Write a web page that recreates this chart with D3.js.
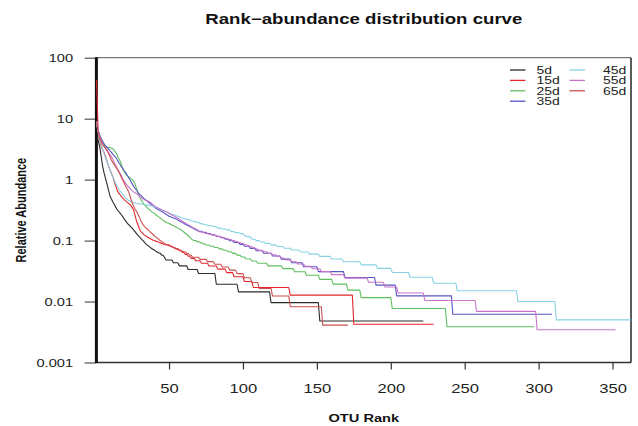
<!DOCTYPE html>
<html>
<head>
<meta charset="utf-8">
<script src="https://cdn.jsdelivr.net/npm/d3@7"></script>
<style>
  html, body { margin: 0; padding: 0; background: #fff; }
  svg { display: block; font-family: "Liberation Sans", Arial, sans-serif; }
</style>
</head>
<body>
<div id="chart"></div>
<script>
// Relative abundance (%) of OTUs sorted by rank, one array per sampling day.
// Each entry is [relative abundance, number of consecutive OTUs with that abundance].
const s5d = [[9,1],[4.5,1],[3.5,1],[2.5,1],[1.7,1],[1.3,1],[1.05,1],[0.85,1],[0.68,1],[0.55,1],
  [0.48,1],[0.43,1],[0.39,1],[0.35,1],[0.32,1],[0.3,1],[0.28,1],[0.26,1],[0.24,1],[0.22,1],
  [0.205,1],[0.19,1],[0.18,1],[0.17,1],[0.16,1],[0.15,1],[0.14,1],[0.13,1],[0.122,1],[0.115,1],
  [0.108,1],[0.102,1],[0.096,1],[0.09,1],[0.085,1],[0.082,1],[0.078,1],[0.075,1],[0.072,1],[0.07,1],
  [0.067,1],[0.065,1],[0.0624,2],[0.0576,2],[0.0528,1],[0.048,5],[0.0432,4],[0.0384,6],[0.0336,7],
  [0.0288,12],[0.0192,15],[0.0144,22],[0.0096,33],[0.0048,71]];

const s15d = [[43,1],[6.5,1],[4.6,1],[3.6,1],[3.1,1],[2.8,1],[2.4,1],[2.0,1],[1.7,1],[1.45,1],
  [1.27,1],[1.1,1],[0.92,1],[0.78,1],[0.66,1],[0.6,1],[0.56,1],[0.52,1],[0.49,1],[0.46,1],
  [0.44,1],[0.42,1],[0.4,1],[0.38,1],[0.35,1],[0.32,1],[0.26,1],[0.21,1],[0.18,1],[0.155,1],
  [0.14,1],[0.132,1],[0.125,1],[0.12,1],[0.116,1],[0.112,1],[0.108,1],[0.105,1],[0.102,1],[0.1,1],
  [0.098,1],[0.096,1],[0.094,1],[0.092,1],[0.09,1],[0.088,1],[0.087,1],
  [0.085,3],[0.0808,2],[0.0765,2],[0.0723,2],[0.068,2],[0.0638,2],[0.0595,2],[0.0553,2],
  [0.051,3],[0.0468,4],[0.0425,5],[0.0383,6],[0.034,6],[0.0298,5],[0.0255,7],[0.0213,6],
  [0.017,25],[0.01275,43],[0.00425,55]];

const s25d = [[8,1],[6.5,1],[5.2,1],[4.5,1],[4.0,1],[3.7,1],[3.5,1],[3.4,1],[3.38,1],[3.35,1],
  [3.3,1],[3.2,1],[3.0,1],[2.8,1],[2.5,1],[2.2,1],[2.0,1],[1.7,1],[1.45,1],[1.3,1],
  [1.2,1],[1.15,1],[1.1,1],[1.05,1],[1.0,1],[0.95,1],[0.85,1],[0.72,1],[0.6,1],[0.53,1],
  [0.47,1],[0.43,1],[0.4,1],[0.37,1],[0.35,1],[0.33,1],[0.32,1],[0.3,1],[0.29,1],[0.28,1],
  [0.265,1],[0.255,1],[0.245,1],[0.235,1],[0.225,1],[0.215,1],[0.205,1],[0.2,1],[0.195,1],[0.19,1],
  [0.185,1],[0.18,1],[0.175,1],[0.17,1],[0.165,1],[0.16,1],[0.155,1],[0.15,1],[0.145,1],[0.138,1],
  [0.132,1],[0.126,1],[0.12,1],[0.114,1],[0.108,1],[0.102,1],
  [0.1,2],[0.0963,2],[0.0924,2],[0.0886,2],[0.0847,3],[0.0809,3],[0.077,3],[0.0732,3],[0.0693,3],
  [0.0655,3],[0.0616,3],[0.0578,3],[0.0539,3],[0.05,4],[0.0462,4],[0.0424,7],[0.0385,10],
  [0.0347,8],[0.0308,8],[0.027,9],[0.0231,9],[0.0193,10],[0.0154,9],[0.0116,21],[0.0077,37],[0.00385,60]];

const s35d = [[9,1],[6.5,1],[5.5,1],[4.8,1],[4.3,1],[3.9,1],[3.6,1],[3.4,1],[3.2,1],[3.0,1],
  [2.8,1],[2.6,1],[2.45,1],[2.3,1],[2.1,1],[1.9,1],[1.75,1],[1.6,1],[1.48,1],[1.37,1],
  [1.27,1],[1.15,1],[1.05,1],[0.95,1],[0.86,1],[0.78,1],[0.72,1],[0.67,1],[0.62,1],[0.58,1],
  [0.55,1],[0.52,1],[0.49,1],[0.47,1],[0.45,1],[0.43,1],[0.41,1],[0.39,1],[0.37,1],[0.355,1],
  [0.34,1],[0.33,1],[0.32,1],[0.31,1],[0.3,1],[0.29,1],[0.28,1],[0.27,1],[0.26,1],[0.25,1],
  [0.245,1],[0.24,1],[0.235,1],[0.23,1],[0.225,1],[0.218,1],[0.21,1],[0.204,1],[0.198,1],[0.192,1],
  [0.186,1],[0.18,1],[0.175,1],[0.17,1],[0.165,1],[0.16,1],[0.155,1],[0.15,1],[0.146,1],
  [0.1426,3],[0.1364,3],[0.1302,3],[0.124,3],[0.1178,3],[0.1116,3],[0.1054,3],[0.0992,3],
  [0.093,4],[0.0868,3],[0.0806,4],[0.0744,4],[0.0682,5],[0.062,6],[0.0558,6],[0.0496,7],
  [0.0434,8],[0.0372,10],[0.031,18],[0.0248,21],[0.0186,14],[0.0124,38],[0.0062,68]];

const s45d = [[9,1],[6,1],[4.8,1],[3.9,1],[3.2,1],[2.7,1],[2.3,1],[2.0,1],[1.7,1],[1.45,1],
  [1.25,1],[1.1,1],[0.97,1],[0.86,1],[0.77,1],[0.7,1],[0.65,1],[0.6,1],[0.56,1],[0.52,1],
  [0.49,1],[0.47,1],[0.45,1],[0.44,1],[0.43,1],[0.42,1],[0.415,1],[0.41,1],[0.405,1],[0.4,1],
  [0.397,1],[0.394,1],[0.39,1],[0.386,1],[0.382,1],[0.378,1],[0.374,1],[0.37,1],[0.365,1],[0.358,1],
  [0.35,1],[0.342,1],[0.334,1],[0.326,1],[0.318,1],[0.31,1],[0.303,1],[0.296,1],[0.29,1],
  [0.28,1],[0.275,1],[0.27,1],[0.265,1],[0.26,1],[0.255,1],[0.25,1],[0.245,1],[0.24,1],[0.235,1],[0.23,1],
  [0.225,2],[0.22,2],[0.21,2],[0.205,2],[0.2,2],[0.19,2],[0.185,2],[0.18,2],
  [0.175,3],[0.17,3],[0.16,3],[0.155,3],[0.15,3],[0.14,3],[0.135,3],[0.13,3],
  [0.12,2],[0.115,3],[0.105,3],[0.1,3],[0.095,3],[0.09,4],[0.085,4],[0.08,5],[0.075,5],
  [0.07,6],[0.065,6],[0.06,7],[0.055,8],[0.05,8],[0.045,12],[0.04,11],[0.035,10],[0.03,12],
  [0.025,16],[0.02,16],[0.015,41],[0.01,26],[0.005,54]];

const s55d = [[9,1],[6.5,1],[5.2,1],[4.4,1],[3.9,1],[3.5,1],[3.2,1],[3.0,1],[2.8,1],[2.6,1],
  [2.4,1],[2.15,1],[1.9,1],[1.7,1],[1.52,1],[1.38,1],[1.25,1],[1.12,1],[1.0,1],[0.92,1],
  [0.85,1],[0.79,1],[0.74,1],[0.7,1],[0.66,1],[0.63,1],[0.61,1],[0.59,1],[0.56,1],[0.53,1],
  [0.51,1],[0.49,1],[0.475,1],[0.46,1],[0.45,1],[0.44,1],[0.43,1],[0.41,1],[0.39,1],[0.375,1],
  [0.36,1],[0.35,1],[0.34,1],[0.33,1],[0.32,1],[0.31,1],[0.305,1],[0.3,1],[0.29,1],[0.28,1],
  [0.27,1],[0.262,1],[0.255,1],[0.248,1],[0.24,1],[0.232,1],[0.224,1],[0.216,1],[0.208,1],[0.2,1],
  [0.194,1],[0.188,1],[0.182,1],[0.176,1],[0.17,1],[0.165,1],[0.16,1],[0.155,1],[0.15,1],[0.145,1],
  [0.138,2],[0.1346,2],[0.1311,2],[0.1277,2],[0.1242,2],[0.1208,2],[0.1173,2],[0.1139,2],[0.1104,2],[0.107,2],
  [0.1035,2],[0.1,2],[0.0966,2],[0.0932,2],[0.0897,2],[0.0863,2],[0.0828,2],[0.0794,2],[0.0759,2],[0.0725,2],
  [0.069,3],[0.0656,3],[0.0621,3],[0.0587,3],[0.0552,3],[0.0518,3],[0.0483,4],[0.0449,4],[0.0414,5],
  [0.038,5],[0.0345,6],[0.031,7],[0.0276,9],[0.0242,16],[0.0207,11],[0.0173,9],[0.0138,18],
  [0.0104,35],[0.0069,41],[0.00345,54]];

const s65d = [[9,1],[6.2,1],[5,1],[4.3,1],[3.8,1],[3.5,1],[3.3,1],[3.1,1],[2.7,1],[2.4,1],
  [2.1,1],[1.9,1],[1.75,1],[1.6,1],[1.48,1],[1.35,1],[1.2,1],[1.05,1],[0.95,1],[0.85,1],
  [0.75,1],[0.68,1],[0.6,1],[0.5,1],[0.42,1],[0.37,1],[0.33,1],[0.3,1],[0.27,1],[0.24,1],
  [0.21,1],[0.19,1],[0.175,1],[0.165,1],[0.155,1],[0.148,1],[0.14,1],[0.133,1],[0.127,1],[0.12,1],
  [0.115,1],[0.11,1],[0.105,1],[0.1,1],[0.097,1],[0.093,1],[0.09,1],
  [0.0861,2],[0.082,2],[0.0779,2],[0.0738,3],[0.0697,2],[0.0656,3],[0.0615,2],[0.0574,2],
  [0.0533,5],[0.0492,5],[0.0451,5],[0.041,5],[0.0369,5],[0.0328,5],[0.0287,5],[0.0246,5],[0.0205,5],
  [0.0164,9],[0.0123,12],[0.0082,22],[0.0041,18]];

const seriesNames = ["5d", "15d", "25d", "35d", "45d", "55d", "65d"];
const seriesRuns = [s5d, s15d, s25d, s35d, s45d, s55d, s65d];
const seriesColors = ["#2b2b2b", "#e3262b", "#5fbf5f", "#5656c4", "#86d2e2", "#c974c9", "#cc4f4f"];

const yTickValues = [0.001, 0.01, 0.1, 1, 10, 100];
const yTickLabels = ["0.001", "0.01", "0.1", "1", "10", "100"];
const xTickValues = [50, 100, 150, 200, 250, 300, 350];

const titleText = "Rank\u2212abundance distribution curve";
const xLabel = "OTU Rank";
const yLabel = "Relative Abundance";

// ---- layout ----
const W = 638, H = 426;
const SX = 1.33;               // horizontal stretch of the lettering
const plotL = 96.6, plotR = 631, plotT = 57.7, plotB = 362.5;

const svg = d3.select("#chart").append("svg")
  .attr("width", W).attr("height", H);

const x = d3.scaleLinear().domain([1, 362.5]).range([plotL, plotR]);
const y = d3.scaleLog().domain([0.001, 100]).range([plotB, plotT]);

// decode run-length arrays into rank/value points
const series = seriesRuns.map((runs, i) => {
  const pts = [];
  let rank = 1;
  runs.forEach(([v, n]) => {
    for (let k = 0; k < n; k++) pts.push({ rank: rank++, value: v });
  });
  return { name: seriesNames[i], color: seriesColors[i], points: pts };
});

// ---- axes ----
const yAxis = d3.axisLeft(y)
  .tickValues(yTickValues)
  .tickFormat((d, i) => yTickLabels[i])
  .tickSize(12)
  .tickSizeOuter(0)
  .tickPadding(5.7);

const gy = svg.append("g")
  .attr("transform", `translate(${plotL},0)`)
  .call(yAxis);
gy.select(".domain").remove();
gy.selectAll(".tick line").attr("stroke", "#333").attr("stroke-width", 1);
gy.selectAll(".tick text")
  .attr("font-size", 11)
  .attr("fill", "#222")
  .attr("font-family", "Liberation Sans, Arial, sans-serif")
  .attr("transform", `scale(${SX},1)`);

const xAxis = d3.axisBottom(x)
  .tickValues(xTickValues)
  .tickSize(7)
  .tickSizeOuter(0)
  .tickPadding(15);

const gx = svg.append("g")
  .attr("transform", `translate(0,${plotB})`)
  .call(xAxis);
gx.select(".domain").remove();
gx.selectAll(".tick line").attr("stroke", "#333").attr("stroke-width", 1.2);
gx.selectAll(".tick text")
  .attr("font-size", 12.5)
  .attr("fill", "#222")
  .attr("font-family", "Liberation Sans, Arial, sans-serif")
  .attr("transform", `scale(${SX},1)`);

// plot frame
const frame = svg.append("g").attr("fill", "none");
frame.append("line").attr("x1", plotL).attr("x2", plotR).attr("y1", plotT).attr("y2", plotT)
  .attr("stroke", "#555").attr("stroke-width", 1);
frame.append("line").attr("x1", plotR).attr("x2", plotR).attr("y1", plotT).attr("y2", plotB)
  .attr("stroke", "#333").attr("stroke-width", 1.6);
frame.append("line").attr("x1", plotL).attr("x2", plotR).attr("y1", plotB).attr("y2", plotB)
  .attr("stroke", "#333").attr("stroke-width", 1.3);
frame.append("line").attr("x1", plotL - 0.2).attr("x2", plotL - 0.2).attr("y1", plotT - 0.5).attr("y2", plotB + 0.6)
  .attr("stroke", "#111").attr("stroke-width", 3);

// ---- curves ----
svg.append("clipPath").attr("id", "plot-clip")
  .append("rect").attr("x", plotL - 2).attr("y", plotT).attr("width", plotR - plotL + 2).attr("height", plotB - plotT);

const line = d3.line()
  .x(d => x(d.rank))
  .y(d => y(d.value));

svg.append("g").attr("clip-path", "url(#plot-clip)")
  .selectAll("path")
  .data(series)
  .join("path")
  .attr("d", d => line(d.points))
  .attr("fill", "none")
  .attr("stroke", d => d.color)
  .attr("stroke-width", 1.1)
  .attr("stroke-linejoin", "round");

// ---- legend ----
const legendCols = [{ lx: 510, tx: 536.5 }, { lx: 569.5, tx: 603 }];
const legendRowY = [70, 80.4, 90.8, 101.2];
const leg = svg.append("g");
series.forEach((s, i) => {
  const col = legendCols[i < 4 ? 0 : 1];
  const yy = legendRowY[i < 4 ? i : i - 4];
  leg.append("line")
    .attr("x1", col.lx).attr("x2", col.lx + 15.5)
    .attr("y1", yy).attr("y2", yy)
    .attr("stroke", s.color).attr("stroke-width", 1.3);
  leg.append("text")
    .attr("transform", `translate(${col.tx},${yy + 3.7}) scale(${SX},1)`)
    .attr("font-size", 10.5)
    .attr("fill", "#222")
    .text(s.name);
});

// ---- titles ----
svg.append("text")
  .attr("transform", `translate(${(plotL + plotR) / 2},23.5) scale(${SX},1)`)
  .attr("text-anchor", "middle")
  .attr("font-size", 14)
  .attr("font-weight", "bold")
  .attr("fill", "#111")
  .text(titleText);

svg.append("text")
  .attr("transform", `translate(${(plotL + plotR) / 2},421.5) scale(${SX},1)`)
  .attr("text-anchor", "middle")
  .attr("font-size", 11)
  .attr("font-weight", "bold")
  .attr("fill", "#111")
  .text(xLabel);

svg.append("text")
  .attr("transform", `translate(25.5,${(plotT + plotB) / 2}) scale(${SX},1) rotate(-90)`)
  .attr("text-anchor", "middle")
  .attr("font-size", 11)
  .attr("font-weight", "bold")
  .attr("fill", "#111")
  .text(yLabel);
</script>
</body>
</html>
